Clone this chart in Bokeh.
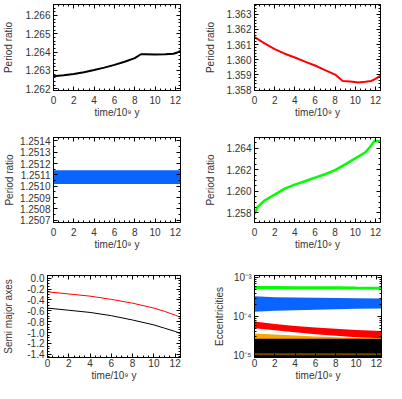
from bokeh.plotting import figure
from bokeh.layouts import column, row
from bokeh.models import (Range1d, LinearAxis, LogAxis, SingleIntervalTicker,
                          FixedTicker, PrintfTickFormatter, CustomJSTickFormatter,
                          CustomLabelingPolicy)
from bokeh.embed import file_html
from bokeh.resources import INLINE

# ---------------- data ----------------
XMAX = 12.5
XLABEL = "time/10⁹ y"

# panel 1: period ratio (black)
t_p1 = [0, 1, 2, 3, 4, 5, 6, 7, 8, 8.6, 9, 10, 11, 11.8, 12.2, 12.5]
pr_p1 = [1.26268, 1.26273, 1.26280, 1.26290, 1.26302, 1.26315, 1.26330,
         1.26347, 1.26367, 1.26388, 1.26388, 1.26387, 1.26388, 1.26391,
         1.26398, 1.26406]

# panel 2: period ratio (red)
t_p2 = [0, 1, 2, 3, 4, 5, 6, 7, 8, 8.75, 9.5, 10.3, 11, 11.6, 12, 12.5]
pr_p2 = [1.36149, 1.36108, 1.36070, 1.36040, 1.36015, 1.35988, 1.35962,
         1.35932, 1.35902, 1.35860, 1.35857, 1.35850, 1.35855, 1.35860,
         1.35874, 1.35895]

# panel 3: period ratio band (blue)
t_p3 = [0, 2, 4, 6, 8, 10, 12.5]
lo_p3 = [1.25102, 1.25102, 1.25102, 1.25102, 1.25102, 1.25102, 1.25102]
hi_p3 = [1.25114, 1.25114, 1.25114, 1.25114, 1.25114, 1.25114, 1.25114]

# panel 4: period ratio (green)
t_p4 = [0, 0.3, 1, 2, 3, 4, 5, 6, 7, 8, 9, 10, 11, 11.5, 11.9, 12.5]
pr_p4 = [1.25791, 1.25853, 1.25916, 1.25970, 1.26025, 1.26063, 1.26094,
         1.26128, 1.26159, 1.26197, 1.26250, 1.26306, 1.26362, 1.26415,
         1.26468, 1.26462]

# panel 5: log semi major axes
t_p5 = [0, 2, 4, 6, 8, 10, 11, 12, 12.5]
a_red = [-0.25, -0.29, -0.33, -0.39, -0.46, -0.55, -0.61, -0.68, -0.72]
a_black = [-0.55, -0.59, -0.63, -0.69, -0.77, -0.86, -0.92, -0.98, -1.02]

# panel 6: eccentricity bands
t_p6 = [0, 2, 4, 6, 8, 10, 12.5]
e_green = [5.6e-4, 5.6e-4, 5.55e-4, 5.5e-4, 5.5e-4, 5.45e-4, 5.4e-4]
e_blue_hi = [3.35e-4, 3.15e-4, 3.1e-4, 3.05e-4, 3.0e-4, 2.95e-4, 2.9e-4]
e_blue_lo = [1.32e-4, 1.40e-4, 1.45e-4, 1.50e-4, 1.55e-4, 1.58e-4, 1.62e-4]
e_red_hi = [7.4e-5, 6.4e-5, 5.7e-5, 5.2e-5, 4.8e-5, 4.5e-5, 4.2e-5]
e_red_lo = [5.0e-5, 4.4e-5, 3.9e-5, 3.5e-5, 3.2e-5, 2.9e-5, 2.75e-5]
e_orange_hi = [3.65e-5, 3.45e-5, 3.25e-5, 3.05e-5, 2.9e-5, 2.8e-5, 2.75e-5]
e_black_hi = [2.65e-5, 2.65e-5, 2.65e-5, 2.65e-5, 2.65e-5, 2.65e-5, 2.65e-5]
e_black_lo = [8.8e-6, 8.8e-6, 8.8e-6, 8.8e-6, 8.8e-6, 8.8e-6, 8.8e-6]
e_speck_hi = [1.12e-5, 1.12e-5, 1.12e-5, 1.12e-5, 1.12e-5, 1.12e-5, 1.12e-5]
e_speck_lo = [1.0e-5, 1.0e-5, 1.0e-5, 1.0e-5, 1.0e-5, 1.0e-5, 1.0e-5]

# ---------------- styling ----------------
FONT = "Liberation Sans"
TXT = "#333333"
BLUE = "#0a64ff"
GREEN = "#00ff00"
RED = "#ff0000"
ORANGE = "#ffa500"

HIDE_ALL = CustomLabelingPolicy(code="""
for (const i of indices) { indices.unset(i) }
return indices
""")


def style_axis(ax, labels=True, standoff=3, title_standoff=2):
    ax.major_tick_in = 4
    ax.major_tick_out = 0
    ax.minor_tick_in = 2
    ax.minor_tick_out = 0
    ax.axis_line_color = "black"
    ax.major_tick_line_color = "black"
    ax.minor_tick_line_color = "black"
    ax.major_label_text_font = FONT
    ax.major_label_text_font_size = "10px"
    ax.major_label_text_color = TXT
    ax.axis_label_text_font = FONT
    ax.axis_label_text_font_size = "10px"
    ax.axis_label_text_color = TXT
    ax.axis_label_text_font_style = "normal"
    ax.major_label_standoff = standoff
    ax.axis_label_standoff = title_standoff
    if not labels:
        ax.major_label_text_font_size = "1px"
        ax.major_label_standoff = 0
        ax.major_label_policy = HIDE_ALL
        ax.axis_label = None


def panel(w, h, borders, yr, ylabel, yticker, yfmt, ylog=False,
          ystand=(3, 2), xstand=(5, 0)):
    bl, br, bt, bb = borders
    p = figure(width=w, height=h, x_range=Range1d(0, XMAX),
               y_range=Range1d(*yr),
               y_axis_type="log" if ylog else "linear",
               output_backend="svg", toolbar_location=None,
               min_border_left=bl, min_border_right=br,
               min_border_top=bt, min_border_bottom=bb,
               x_axis_label=XLABEL, y_axis_label=ylabel)
    p.xgrid.visible = False
    p.ygrid.visible = False
    p.outline_line_color = "black"
    p.outline_line_width = 1
    p.background_fill_color = "white"
    p.border_fill_color = "white"
    xt = SingleIntervalTicker(interval=2, num_minor_ticks=4)
    p.xaxis[0].ticker = xt
    p.xaxis[0].formatter = PrintfTickFormatter(format="%d")
    p.yaxis[0].ticker = yticker
    p.yaxis[0].formatter = yfmt
    style_axis(p.xaxis[0], True, xstand[0], xstand[1])
    style_axis(p.yaxis[0], True, ystand[0], ystand[1])
    top = LinearAxis(ticker=xt)
    style_axis(top, labels=False)
    p.add_layout(top, "above")
    right = LogAxis(ticker=yticker) if ylog else LinearAxis(ticker=yticker)
    style_axis(right, labels=False)
    p.add_layout(right, "right")
    return p


W1, W2 = 200, 186
H1, H2, H3 = 120, 135, 128
B1 = (47, 20)
B2 = (54, 1)
R1 = (1, 29)
R2 = (17, 33)
R3 = (20, 26)

p1 = panel(W1, H1, B1 + R1, (1.2619, 1.2666), "Period ratio",
           SingleIntervalTicker(interval=0.001, num_minor_ticks=5),
           PrintfTickFormatter(format="%.3f"), ystand=(3, 8))
p1.line(t_p1, pr_p1, line_color="black", line_width=2)

p2 = panel(W2, H1, B2 + R1, (1.35797, 1.36365), "Period ratio",
           SingleIntervalTicker(interval=0.001, num_minor_ticks=5),
           PrintfTickFormatter(format="%.3f"), ystand=(3, 7))
p2.line(t_p2, pr_p2, line_color=RED, line_width=2)

p3 = panel(W1, H2, B1 + R2, (1.25068, 1.25143), "Period ratio",
           SingleIntervalTicker(interval=0.0001, num_minor_ticks=2),
           PrintfTickFormatter(format="%.4f"), ystand=(3, 2))
p3.varea(x=t_p3, y1=lo_p3, y2=hi_p3, fill_color=BLUE)

p4 = panel(W2, H2, B2 + R2, (1.25712, 1.26499), "Period ratio",
           SingleIntervalTicker(interval=0.002, num_minor_ticks=4),
           PrintfTickFormatter(format="%.3f"), ystand=(3, 7))
p4.line(t_p4, pr_p4, line_color=GREEN, line_width=2.5)

p5 = panel(W1, H3, B1 + R3, (-1.46, 0.05), "Semi major axes",
           SingleIntervalTicker(interval=0.2, num_minor_ticks=4),
           PrintfTickFormatter(format="%.1f"), ystand=(3, 10), xstand=(1, 0))
p5.line(t_p5, a_red, line_color=RED, line_width=1)
p5.line(t_p5, a_black, line_color="black", line_width=1)

log_ticker = FixedTicker(
    ticks=[1e-5, 1e-4, 1e-3],
    minor_ticks=[k * 1e-5 for k in range(2, 10)] + [k * 1e-4 for k in range(2, 10)])
log_fmt = CustomJSTickFormatter(code="""
const e = Math.round(Math.log10(tick));
const sup = {'-':'\u207b','0':'\u2070','1':'\u00b9','2':'\u00b2','3':'\u00b3','4':'\u2074','5':'\u2075','6':'\u2076','7':'\u2077','8':'\u2078','9':'\u2079'};
return '10' + String(e).split('').map(c => sup[c]).join('');
""")
p6 = panel(W2, H3, B2 + R3, (10 ** -5.06, 10 ** -2.94), "Eccentricities",
           log_ticker, log_fmt, ylog=True, ystand=(3, 5), xstand=(1, 0))
p6.varea(x=t_p6, y1=e_black_lo, y2=e_orange_hi, fill_color=ORANGE)
p6.varea(x=t_p6, y1=e_black_lo, y2=e_black_hi, fill_color="black")
p6.varea(x=t_p6, y1=e_speck_lo, y2=e_speck_hi, fill_color=ORANGE, fill_alpha=0.45)
p6.varea(x=t_p6, y1=e_red_lo, y2=e_red_hi, fill_color=RED)
p6.varea(x=t_p6, y1=e_blue_lo, y2=e_blue_hi, fill_color=BLUE)
p6.line(t_p6, e_green, line_color=GREEN, line_width=3)

layout = column(row(p1, p2), row(p3, p4), row(p5, p6))

with open("out.html", "w", encoding="utf-8") as f:
    f.write(file_html(layout, INLINE))
